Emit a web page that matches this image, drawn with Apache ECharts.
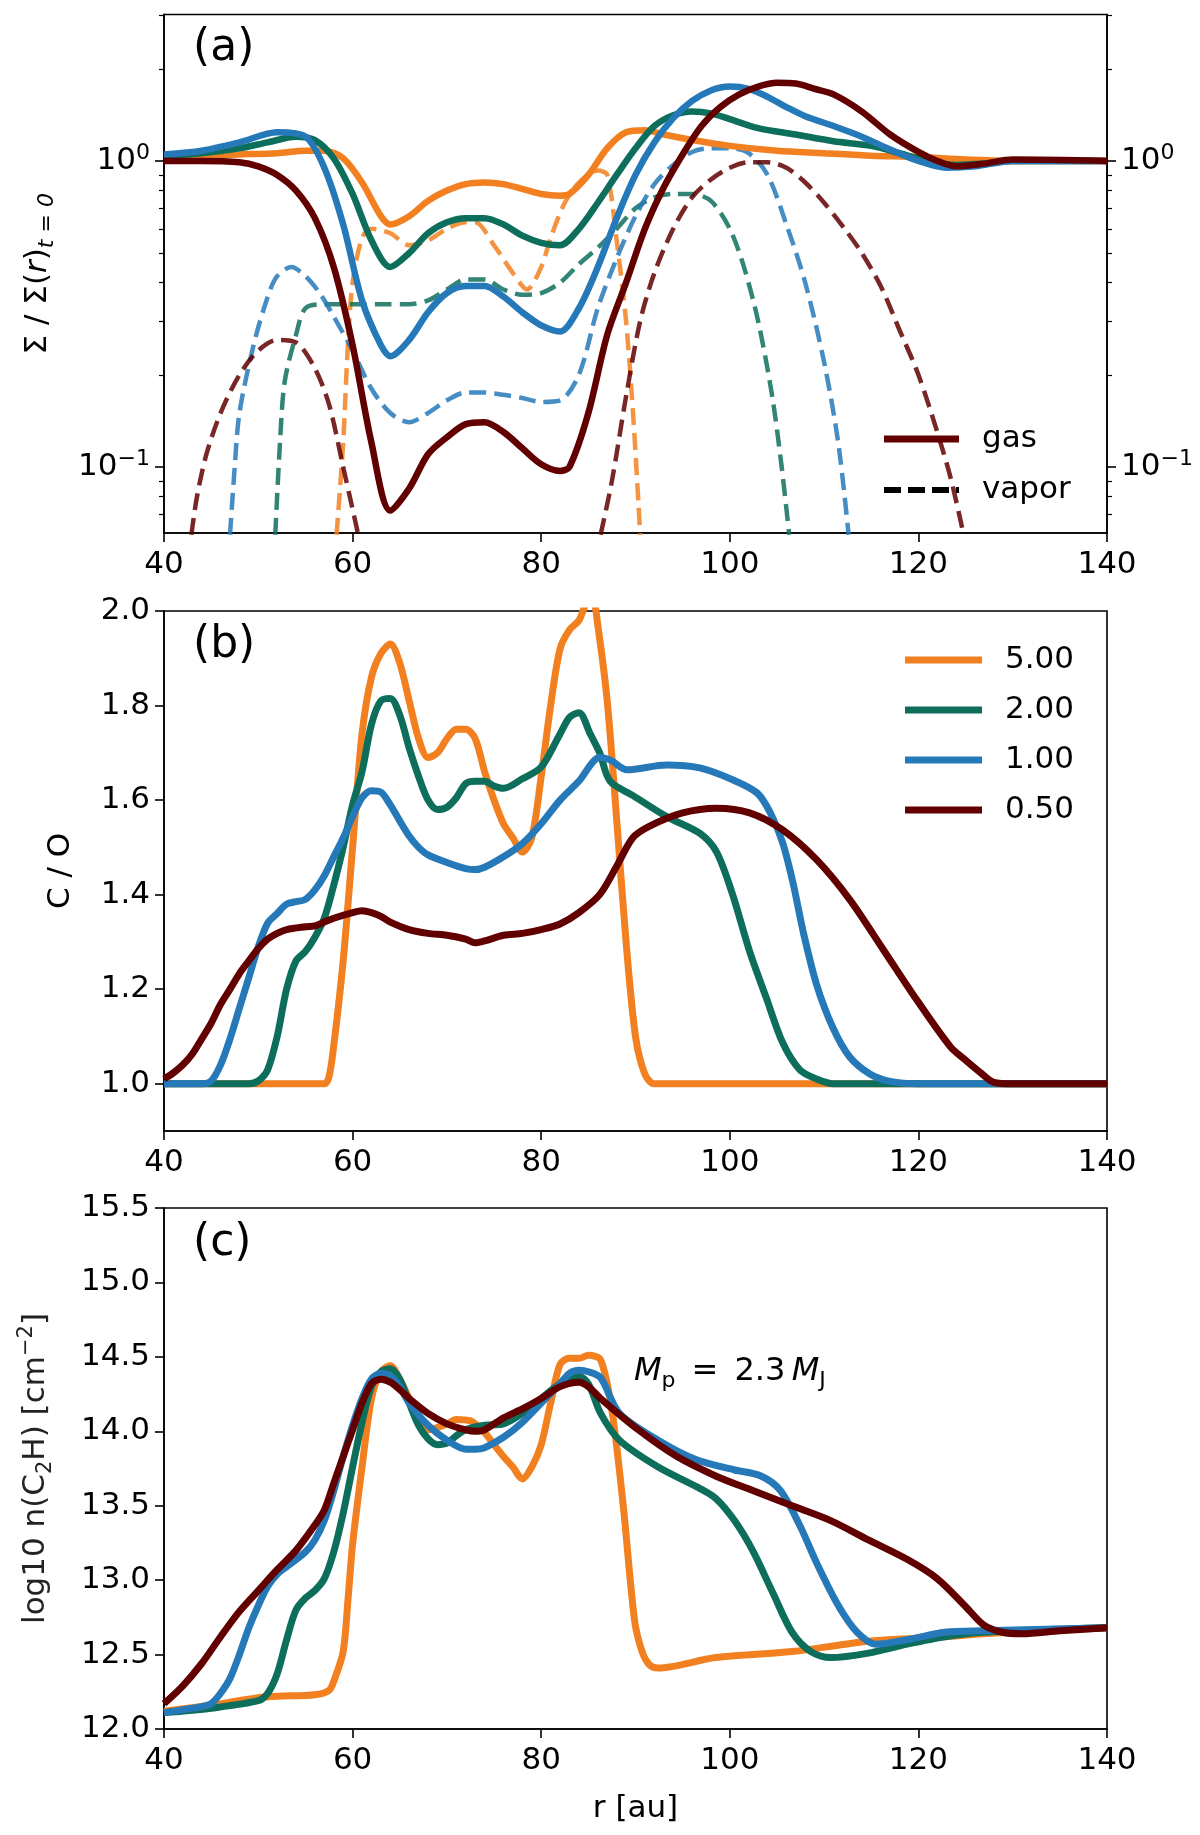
<!DOCTYPE html>
<html><head><meta charset="utf-8">
<script src="https://cdn.jsdelivr.net/npm/echarts@6/dist/echarts.min.js"></script>
<style>html,body{margin:0;padding:0;background:#fff}#c{width:1200px;height:1835px}</style>
</head><body><div id="c"></div><script>
// ---------- data ----------
const seriesNames = ['5.00', '2.00', '1.00', '0.50'];
const xTicks = [40, 60, 80, 100, 120, 140];
const coTicks = [1.0, 1.2, 1.4, 1.6, 1.8, 2.0];
const logMinorTicks = [0.07, 0.08, 0.09, 0.2, 0.3, 0.4, 0.5, 0.6, 0.7, 0.8, 0.9, 2, 3];

// panel (a): gas surface density ratio
const gas_500 = [[40,1.03],[44,1.04],[48,1.05],[52,1.06],[55,1.08],[57,1.08],[59,1.02],[61,0.85],[63,0.66],[64,0.62],[66,0.66],[68,0.74],[70,0.8],[72,0.84],[74,0.85],[76,0.84],[78,0.81],[80,0.78],[82,0.77],[83,0.78],[85,0.9],[87,1.1],[89,1.24],[91,1.26],[93,1.22],[96,1.17],[100,1.12],[105,1.08],[110,1.06],[115,1.04],[120,1.03],[125,1.01],[130,1.0],[140,1.0]];
const gas_200 = [[40,1.04],[44,1.06],[48,1.1],[51,1.15],[54,1.2],[56,1.17],[58,1.02],[60,0.78],[62,0.55],[64,0.45],[66,0.5],[68,0.58],[70,0.63],[72,0.65],[74,0.65],[76,0.62],[78,0.57],[80,0.54],[82,0.53],[84,0.6],[86,0.73],[88,0.9],[90,1.1],[92,1.3],[94,1.41],[96,1.45],[98,1.43],[100,1.37],[103,1.28],[107,1.22],[111,1.16],[115,1.12],[118,1.06],[121,1.0],[124,0.97],[127,0.98],[130,1.0],[140,1.0]];
const gas_100 = [[40,1.05],[44,1.08],[48,1.15],[52,1.24],[55,1.2],[57,0.95],[59,0.62],[61,0.35],[63,0.25],[64,0.23],[66,0.26],[68,0.32],[70,0.37],[72,0.39],[74,0.39],[76,0.36],[78,0.32],[80,0.29],[82,0.277],[84,0.33],[86,0.45],[88,0.65],[90,0.9],[92,1.15],[94,1.38],[96,1.57],[98,1.7],[100,1.75],[102,1.72],[104,1.62],[106,1.5],[108,1.4],[111,1.3],[114,1.2],[117,1.09],[120,1.0],[123,0.95],[126,0.96],[130,1.0],[140,1.0]];
const gas_050 = [[40,1.0],[44,1.0],[48,0.99],[50,0.96],[52,0.9],[54,0.8],[56,0.65],[58,0.45],[60,0.25],[62,0.12],[64,0.072],[66,0.085],[68,0.11],[70,0.125],[72,0.138],[74,0.14],[76,0.13],[78,0.115],[80,0.102],[82,0.097],[83,0.1],[85,0.15],[87,0.27],[89,0.4],[91,0.6],[93,0.82],[95,1.05],[97,1.3],[99,1.5],[101,1.65],[103,1.75],[105,1.8],[107,1.79],[109,1.72],[111,1.65],[114,1.45],[117,1.22],[120,1.07],[122,1.0],[124,0.96],[127,0.98],[130,1.01],[140,1.0]];

// panel (a): vapor surface density ratio
const vap_500 = [[58.3,0.06],[59,0.12],[59.5,0.25],[60,0.4],[61,0.56],[62,0.6],[64,0.58],[66,0.53],[68,0.55],[70,0.6],[72,0.63],[73,0.63],[75,0.53],[77,0.43],[78.5,0.38],[80,0.45],[81,0.56],[82.5,0.73],[84,0.85],[86,0.93],[87,0.9],[88,0.55],[89,0.3],[89.8,0.14],[90.5,0.06]];
const vap_200 = [[51.8,0.06],[52.3,0.12],[52.8,0.19],[54,0.27],[55,0.33],[57,0.34],[60,0.34],[63,0.34],[66,0.34],[68,0.35],[70,0.38],[72,0.41],[74,0.41],[76,0.38],[78,0.365],[80,0.37],[82,0.4],[84,0.46],[86,0.52],[88,0.6],[90,0.7],[92,0.76],[94,0.78],[96,0.78],[98,0.74],[100,0.6],[101.5,0.45],[103,0.3],[104.5,0.17],[105.5,0.1],[106.3,0.06]];
const vap_100 = [[47,0.06],[47.5,0.1],[48,0.15],[49.5,0.25],[51,0.36],[52,0.42],[53.5,0.45],[55,0.42],[56.5,0.37],[58,0.31],[60,0.24],[62,0.18],[64,0.15],[66,0.14],[68,0.15],[70,0.165],[72,0.175],[74,0.175],[76,0.172],[78,0.168],[80,0.163],[82,0.165],[84,0.2],[86,0.33],[88,0.48],[90,0.66],[92,0.84],[94,0.97],[96,1.07],[98,1.1],[100,1.1],[102,1.06],[104,0.9],[106,0.62],[108,0.4],[110,0.22],[111.5,0.12],[112.6,0.06]];
const vap_050_in = [[42.9,0.06],[43.5,0.08],[44.5,0.11],[46,0.15],[48,0.2],[50,0.24],[52,0.26],[54,0.255],[56,0.21],[57.5,0.16],[59,0.1],[60.6,0.06]];
const vap_050_out = [[86.3,0.06],[87.5,0.09],[89,0.17],[90.5,0.3],[92,0.43],[94,0.6],[96,0.76],[98,0.87],[100,0.95],[102,0.99],[104,0.99],[106,0.95],[108,0.85],[110,0.73],[112,0.61],[114,0.5],[116,0.39],[118,0.28],[120,0.2],[122,0.13],[123.5,0.09],[124.8,0.06]];

// panel (b): C/O
const co_500 = [[40,1.0],[50,1.0],[57,1.0],[57.5,1.015],[58,1.08],[59,1.26],[60,1.5],[61,1.74],[62,1.86],[63,1.91],[64,1.93],[65,1.89],[66,1.81],[67,1.73],[68,1.69],[69,1.7],[70,1.73],[71,1.75],[72,1.75],[73,1.73],[74,1.66],[75,1.6],[76,1.55],[77,1.52],[78,1.49],[79,1.52],[80,1.65],[81,1.8],[82,1.92],[83,1.96],[84,1.98],[85,2.02],[85.5,2.02],[86,1.97],[87,1.81],[88,1.56],[89,1.3],[90,1.1],[91,1.02],[92,1.0],[100,1.0],[140,1.0]];
const co_200 = [[40,1.0],[49,1.0],[50,1.006],[51,1.03],[52,1.1],[53,1.2],[54,1.26],[55,1.28],[56,1.31],[57,1.35],[58,1.42],[59,1.5],[60,1.59],[61,1.66],[62,1.76],[63,1.81],[64,1.815],[65,1.78],[66,1.71],[67,1.65],[68,1.6],[69,1.58],[70,1.585],[71,1.605],[72,1.635],[73,1.64],[74,1.64],[75,1.63],[76,1.625],[78,1.645],[80,1.67],[82,1.74],[83,1.775],[84,1.785],[85.2,1.74],[86.2,1.7],[87.3,1.64],[89.7,1.61],[93.3,1.565],[96.8,1.53],[98.6,1.49],[100.3,1.4],[102.1,1.28],[103.9,1.18],[105.6,1.087],[107.4,1.03],[109.2,1.01],[111,1.0],[140,1.0]];
const co_100 = [[40,1.0],[44,1.0],[45,1.006],[46,1.04],[47,1.095],[48,1.16],[49,1.225],[50,1.29],[51,1.34],[52,1.36],[53,1.38],[54,1.385],[55,1.39],[56,1.41],[57,1.44],[58,1.48],[59,1.52],[60,1.565],[61,1.605],[62,1.62],[63,1.617],[64,1.59],[65,1.556],[66,1.524],[67,1.5],[68,1.484],[70,1.468],[72,1.455],[73,1.453],[74,1.458],[76,1.48],[78,1.508],[80,1.55],[82,1.6],[84,1.64],[86.2,1.69],[87.3,1.685],[89.1,1.664],[93.3,1.674],[96.8,1.668],[100.3,1.643],[102.9,1.615],[104.3,1.573],[105.6,1.51],[106.7,1.425],[107.8,1.32],[109.2,1.21],[110.9,1.12],[112.7,1.057],[114.9,1.02],[117,1.005],[120,1.0],[140,1.0]];
const co_050 = [[40,1.01],[41,1.023],[42,1.04],[43,1.063],[44,1.095],[45,1.128],[46,1.168],[47,1.2],[48,1.233],[49,1.26],[50,1.286],[51,1.306],[52,1.318],[53,1.326],[55,1.332],[56,1.334],[57,1.342],[58,1.35],[60,1.362],[61,1.366],[62,1.362],[63,1.354],[64,1.342],[66,1.326],[68,1.318],[70,1.314],[72,1.306],[73,1.298],[74,1.302],[76,1.314],[78,1.318],[80,1.326],[82,1.338],[84,1.362],[86.2,1.4],[88,1.46],[89.7,1.52],[91.5,1.545],[95,1.573],[98.6,1.583],[102.1,1.573],[105.6,1.537],[109.2,1.474],[112.7,1.39],[116.3,1.283],[119.8,1.178],[123.4,1.078],[125,1.05],[126.5,1.025],[128,1.003],[130,1.0],[140,1.0]];

// panel (c): log10 column density of C2H
const nc_500 = [[40,12.12],[45,12.16],[50,12.21],[52,12.22],[56,12.23],[57.5,12.26],[58,12.32],[59,12.52],[59.5,12.86],[60,13.24],[61,13.76],[62,14.22],[63,14.4],[64,14.44],[65,14.35],[66,14.22],[67,14.09],[68,14.01],[70,14.05],[71,14.08],[72.5,14.07],[74,13.99],[75,13.91],[76,13.83],[77,13.76],[78,13.68],[79,13.76],[80,13.91],[81,14.19],[82,14.45],[83,14.49],[84,14.49],[85,14.51],[86.3,14.48],[87.5,14.14],[88.7,13.5],[89.9,12.73],[90.7,12.52],[91.5,12.43],[92.4,12.41],[98.5,12.48],[106.6,12.52],[114.7,12.59],[122.8,12.62],[126.9,12.64],[130,12.65],[140,12.68]];
const nc_200 = [[40,12.11],[45,12.14],[50,12.19],[51,12.24],[52,12.37],[53,12.6],[54,12.8],[55,12.88],[56,12.93],[57,13.01],[58,13.19],[59,13.45],[60,13.76],[61,14.06],[62,14.3],[63,14.4],[64,14.42],[65,14.35],[66,14.19],[67,14.04],[68,13.95],[69,13.91],[70,13.92],[71,13.97],[72,14.01],[74,14.04],[76,14.05],[78,14.12],[80,14.22],[82,14.32],[84,14.37],[85,14.32],[86.3,14.12],[88.3,13.94],[92.4,13.76],[96.4,13.63],[98.5,13.55],[100.5,13.4],[102.5,13.19],[104.6,12.91],[106.6,12.65],[108.6,12.52],[110.7,12.48],[114.7,12.51],[118.8,12.57],[122.8,12.62],[126.9,12.65],[140,12.68]];
const nc_100 = [[40,12.11],[44,12.15],[45,12.17],[46,12.24],[47,12.34],[48,12.5],[49,12.68],[50,12.83],[51,12.96],[52,13.04],[53,13.09],[55,13.19],[56,13.27],[57,13.4],[58,13.6],[59,13.83],[60,14.04],[61,14.22],[62,14.35],[63,14.39],[64,14.37],[65,14.3],[66,14.19],[68,14.04],[70,13.94],[72,13.88],[73,13.88],[74,13.89],[76,13.96],[78,14.06],[80,14.19],[82,14.32],[83,14.39],[84,14.41],[85,14.4],[86.3,14.36],[88.3,14.12],[92.4,13.94],[96.4,13.81],[100.5,13.74],[103.3,13.7],[105.4,13.6],[107.4,13.37],[109.4,13.09],[111.5,12.83],[113.5,12.65],[115.5,12.57],[118.8,12.6],[122.8,12.65],[126.9,12.66],[140,12.68]];
const nc_050 = [[40,12.17],[42,12.29],[44,12.44],[46,12.62],[48,12.79],[50,12.93],[52,13.07],[54,13.2],[56,13.37],[57,13.47],[58,13.65],[59,13.83],[60,14.01],[61,14.19],[62,14.32],[63,14.35],[64,14.33],[65,14.28],[66,14.22],[68,14.12],[70,14.05],[72,14.01],[73,14.0],[74,14.01],[76,14.09],[78,14.15],[80,14.22],[82,14.3],[84,14.33],[85,14.3],[86.3,14.22],[90.3,14.01],[94.4,13.83],[98.5,13.7],[102.5,13.6],[106.6,13.5],[110.7,13.4],[114.7,13.27],[118.8,13.14],[122,13.01],[124.9,12.83],[126.9,12.7],[128.9,12.65],[131,12.64],[135,12.66],[140,12.68]];

// ---------- styling ----------
const FONT = 'DejaVu Sans';
const COL = {'5.00':'#f28021', '2.00':'#0e6e5c', '1.00':'#2679b8', '0.50':'#620000'};
const FS = 31;

const grids = [
  {left:164, top:14.5, width:943, height:518.5},
  {left:164, top:611, width:943, height:520},
  {left:164, top:1208, width:943, height:521}
].map(g => Object.assign(g, {show:true, borderColor:'#000', borderWidth:1.6, backgroundColor:'#fff'}));

const axisLineCommon = {show:true, lineStyle:{color:'#000', width:1.6}};
const tickCommon = {show:true, inside:false, length:9, lineStyle:{color:'#000', width:1.6}};
const labelCommon = {color:'#000', fontFamily:FONT, fontSize:FS};

function xAxis(i, name) {
  const ax = {
    type:'value', gridIndex:i, min:40, max:140, interval:20,
    axisLine:axisLineCommon, axisTick:tickCommon,
    axisLabel:Object.assign({margin:16}, labelCommon),
    splitLine:{show:false}
  };
  if (name) {
    ax.name = name; ax.nameLocation = 'middle'; ax.nameGap = 64;
    ax.nameTextStyle = {color:'#000', fontFamily:FONT, fontSize:FS};
  }
  return ax;
}

function logFormatter(v) {
  const e = Math.log10(v), r = Math.round(e);
  if (Math.abs(e - r) > 1e-6) return '';
  return '{b|10}{s|' + (r < 0 ? '\u2212' + (-r) : r) + '}';
}
const logRich = {
  b:{fontFamily:FONT, fontSize:FS, color:'#000', lineHeight:38},
  s:{fontFamily:FONT, fontSize:22, color:'#000', verticalAlign:'top', lineHeight:24}
};
function logYAxis(pos, withName) {
  const ax = {
    type:'log', logBase:10, gridIndex:0, position:pos, min:0.0608, max:3.01,
    axisLine:axisLineCommon, axisTick:tickCommon,
    axisLabel:{margin:14, showMinLabel:false, showMaxLabel:false, formatter:logFormatter, rich:logRich},
    splitLine:{show:false}, minorTick:{show:false}
  };
  if (withName) {
    ax.name = '{n|\u03A3 / \u03A3(}{i|r}{n|)}{s|t = 0}';
    ax.nameLocation = 'middle'; ax.nameGap = 106; ax.nameRotate = 90;
    ax.nameTextStyle = {rich:{
      n:{fontFamily:FONT, fontSize:FS, color:'#000', lineHeight:40},
      i:{fontFamily:FONT, fontStyle:'italic', fontSize:FS, color:'#000', lineHeight:40},
      s:{fontFamily:FONT, fontStyle:'italic', fontSize:22, color:'#000', verticalAlign:'bottom', lineHeight:22}
    }};
  }
  return ax;
}
function logMinorAxis(pos) {
  return {
    type:'log', logBase:10, gridIndex:0, position:pos, min:0.0608, max:3.01,
    axisLine:{show:false},
    axisTick:{show:true, inside:false, length:5, customValues:logMinorTicks, lineStyle:{color:'#000', width:1.2}},
    axisLabel:{show:false}, splitLine:{show:false}
  };
}

const yAxes = [
  logYAxis('left', true),
  {
    type:'value', gridIndex:1, min:0.9, max:2.0,
    axisLine:axisLineCommon,
    axisTick:Object.assign({customValues:coTicks}, tickCommon),
    axisLabel:Object.assign({margin:14, customValues:coTicks, formatter:v => v.toFixed(1)}, labelCommon),
    splitLine:{show:false},
    name:'C / O', nameLocation:'middle', nameGap:88, nameRotate:90,
    nameTextStyle:{color:'#000', fontFamily:FONT, fontSize:FS}
  },
  {
    type:'value', gridIndex:2, min:12, max:15.5, interval:0.5,
    axisLine:axisLineCommon, axisTick:tickCommon,
    axisLabel:Object.assign({margin:14, formatter:v => v.toFixed(1)}, labelCommon),
    splitLine:{show:false},
    name:'{n|log10 n(C}{s|2}{n|H) [cm}{u|\u22122}{n|]}', nameLocation:'middle', nameGap:108, nameRotate:90,
    nameTextStyle:{rich:{
      n:{fontFamily:FONT, fontSize:FS, color:'#222', lineHeight:40},
      s:{fontFamily:FONT, fontSize:21, color:'#222', verticalAlign:'bottom', lineHeight:21},
      u:{fontFamily:FONT, fontSize:21, color:'#222', verticalAlign:'top', lineHeight:21}
    }}
  },
  logYAxis('right', false),
  logMinorAxis('left'),
  logMinorAxis('right')
];

function line(name, data, xi, yi, color, width, dashed, opacity) {
  return {
    type:'line', name:name, data:data, xAxisIndex:xi, yAxisIndex:yi,
    showSymbol:false, symbol:'none', smooth:0.3, clip:true,
    lineStyle:{color:color, width:width, type:dashed ? [17, 8] : 'solid', opacity:opacity || 1, cap:'butt', join:'round'},
    itemStyle:{color:color}, silent:true, animation:false
  };
}

const gasSets = [gas_500, gas_200, gas_100, gas_050];
const vapSets = [[vap_500], [vap_200], [vap_100], [vap_050_in, vap_050_out]];
const coSets = [co_500, co_200, co_100, co_050];
const ncSets = [nc_500, nc_200, nc_100, nc_050];

const series = [];
seriesNames.forEach((n, k) => {
  vapSets[k].forEach(d => series.push(line('vapor', d, 0, 0, COL[n], 4.5, true, 0.85)));
});
seriesNames.forEach((n, k) => series.push(line('gas', gasSets[k], 0, 0, COL[n], 6.5, false)));
seriesNames.forEach((n, k) => series.push(line(n, coSets[k], 1, 1, COL[n], 7, false)));
seriesNames.forEach((n, k) => series.push(line(n, ncSets[k], 2, 2, COL[n], 7, false)));

const legendText = {color:'#000', fontFamily:FONT, fontSize:FS, lineHeight:36, padding:[0,0,0,18]};
const dashIcon = 'path://M0,0h17v6h-17z M24,0h17v6h-17z M48,0h17v6h-17z M72,0h3v6h-3z';

const option = {
  backgroundColor:'#fff',
  animation:false,
  grid:grids,
  xAxis:[xAxis(0), xAxis(1), xAxis(2, 'r [au]')],
  yAxis:yAxes,
  legend:[
    {
      orient:'vertical', left:879, top:416, itemWidth:75, itemHeight:7, itemGap:15,
      selectedMode:false, textStyle:legendText,
      data:[
        {name:'gas', icon:'rect', itemStyle:{color:COL['0.50'], borderWidth:0}},
        {name:'vapor', icon:dashIcon, itemStyle:{color:'#000', borderWidth:0}}
      ]
    },
    {
      orient:'vertical', left:900, top:637, itemWidth:77, itemHeight:7, itemGap:14,
      selectedMode:false, textStyle:legendText,
      data:seriesNames.map(n => ({name:n, icon:'rect', itemStyle:{color:COL[n], borderWidth:0}}))
    }
  ],
  graphic:[
    {type:'text', left:193, top:27, style:{text:'(a)', font:'44px "DejaVu Sans"', fill:'#000'}},
    {type:'text', left:193, top:624, style:{text:'(b)', font:'44px "DejaVu Sans"', fill:'#000'}},
    {type:'text', left:193, top:1222, style:{text:'(c)', font:'44px "DejaVu Sans"', fill:'#000'}},
    {type:'text', left:634, top:1356, style:{
      text:'{i|M}{s|p}{n|\u2002=\u20022.3\u2009}{i|M}{s|J}',
      rich:{
        i:{fontFamily:FONT, fontStyle:'italic', fontSize:32, fill:'#000', lineHeight:40},
        n:{fontFamily:FONT, fontSize:32, fill:'#000', lineHeight:40},
        s:{fontFamily:FONT, fontSize:22, fill:'#000', verticalAlign:'bottom', lineHeight:24}
      }
    }}
  ],
  series:series
};

const chart = echarts.init(document.getElementById('c'), null, {renderer:'canvas', width:1200, height:1835});
chart.setOption(option);
</script></body></html>
